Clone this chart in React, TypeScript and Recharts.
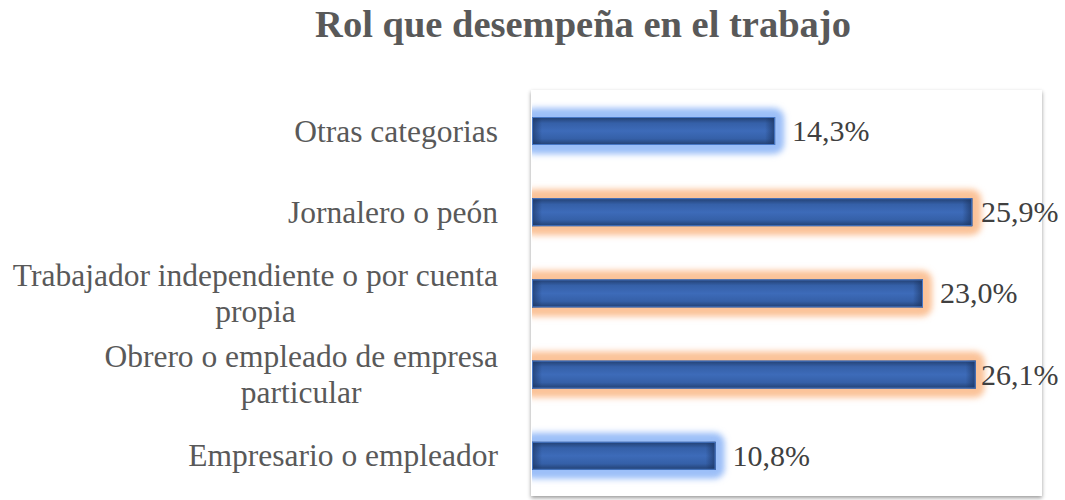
import React from 'react';
import { BarChart, Bar, XAxis, YAxis, LabelList } from 'recharts';

const categories = [
  'Otras categorias',
  'Jornalero o peón',
  'Trabajador independiente o por cuenta propia',
  'Obrero o empleado de empresa particular',
  'Empresario o empleador',
];
const values = [14.3, 25.9, 23.0, 26.1, 10.8];
const glowColors = ['#9cbff8', '#fbc399', '#fbc399', '#fbc399', '#9cbff8'];
const title = 'Rol que desempeña en el trabajo';

const data = categories.map((name, i) => ({ name, value: values[i] }));

const CAT_FONT = 31.5;
const FONT = '"Liberation Serif", "Times New Roman", serif';

let ctx: CanvasRenderingContext2D | null = null;
function measure(t: string): number {
  if (!ctx) {
    const c = document.createElement('canvas');
    ctx = c.getContext('2d');
  }
  if (!ctx) return t.length * CAT_FONT * 0.45;
  ctx.font = `${CAT_FONT}px "Liberation Serif"`;
  return ctx.measureText(t).width;
}

function wrap(text: string, maxW: number): string[] {
  const words = text.split(' ');
  const lines: string[] = [];
  let cur = '';
  for (const w of words) {
    const next = cur ? cur + ' ' + w : w;
    if (cur && measure(next) > maxW) {
      lines.push(cur);
      cur = w;
    } else cur = next;
  }
  if (cur) lines.push(cur);
  return lines;
}

function CatTick(props: any) {
  const { x, y, payload } = props;
  const lines = wrap(String(payload.value), 492);
  const right = Number(x);
  const cy = Number(y);
  if (lines.length === 1) {
    return (
      <text x={right} y={cy + 11} textAnchor="end" fill="#595959" fontFamily={FONT} fontSize={CAT_FONT}>
        {lines[0]}
      </text>
    );
  }
  const maxW = Math.max(...lines.map(measure));
  const cx = right - maxW / 2;
  const lh = 36.5;
  const first = cy + 11 - (lh * (lines.length - 1)) / 2;
  return (
    <text textAnchor="middle" fill="#595959" fontFamily={FONT} fontSize={CAT_FONT}>
      {lines.map((l, i) => (
        <tspan key={i} x={cx} y={first + i * lh}>
          {l}
        </tspan>
      ))}
    </text>
  );
}

function GlowBar(props: any) {
  const { x, y, width, height } = props;
  let index = props.index;
  if (index === undefined && props.payload) index = categories.indexOf(props.payload.name);
  const glow = glowColors[index] || glowColors[0];
  const id = `bar${index}`;
  const ex = x + width;
  return (
    <g>
      <defs>
        <filter id={`${id}-f`} x="-10%" y="-100%" width="120%" height="300%">
          <feGaussianBlur stdDeviation="3" />
        </filter>
        <clipPath id={`${id}-c`}>
          <rect x={x} y={y - 30} width={width + 40} height={height + 60} />
        </clipPath>
        <linearGradient id={`${id}-v`} x1="0" y1="0" x2="0" y2="1">
          <stop offset="0" stopColor="#223f70" />
          <stop offset="0.22" stopColor="#3560a8" />
          <stop offset="0.5" stopColor="#3d6bb9" />
          <stop offset="0.78" stopColor="#3560a8" />
          <stop offset="1" stopColor="#223f70" />
        </linearGradient>
        <linearGradient id={`${id}-h`} gradientUnits="userSpaceOnUse" x1={x} y1="0" x2={ex} y2="0">
          <stop offset="0" stopColor="#1c3561" stopOpacity="0.7" />
          <stop offset={Math.min(0.3, 10 / width)} stopColor="#1c3561" stopOpacity="0" />
          <stop offset={Math.max(0.7, 1 - 10 / width)} stopColor="#1c3561" stopOpacity="0" />
          <stop offset="1" stopColor="#1c3561" stopOpacity="0.75" />
        </linearGradient>
      </defs>
      <g clipPath={`url(#${id}-c)`}>
        <rect x={x - 9} y={y - 9} width={width + 18} height={height + 18} rx={10} fill={glow} filter={`url(#${id}-f)`} />
        <rect x={x - 4} y={y - 4} width={width + 8} height={height + 8} rx={5} fill={glow} opacity={0.6} filter={`url(#${id}-f)`} />
      </g>
      <rect x={x} y={y} width={width} height={height} fill={`url(#${id}-v)`} />
      <rect x={x} y={y} width={width} height={height} fill={`url(#${id}-h)`} />
      <rect x={x + 0.5} y={y + 0.5} width={width - 1} height={height - 1} fill="none" stroke="#4677c6" strokeWidth={1} />
    </g>
  );
}

function ValueLabel(props: any) {
  const x = Number(props.x);
  const y = Number(props.y);
  const w = Number(props.width);
  const h = Number(props.height);
  const v = Number(props.value);
  const lx = Math.min(x + w + 17, 981);
  return (
    <text x={lx} y={y + h / 2 + 10} fill="#404040" fontFamily={FONT} fontSize={30} textAnchor="start">
      {v.toFixed(1).replace('.', ',') + '%'}
    </text>
  );
}

export default function App() {
  return (
    <div style={{ position: 'absolute', left: 0, top: 0, width: 1065, height: 500, background: '#fff', overflow: 'hidden' }}>
      <div
        style={{
          position: 'absolute',
          left: 283,
          top: 5,
          width: 600,
          textAlign: 'center',
          fontFamily: FONT,
          fontWeight: 'bold',
          fontSize: 38.5,
          lineHeight: '38px',
          color: '#595959',
          whiteSpace: 'nowrap',
        }}
      >
        {title}
      </div>
      <div
        style={{
          position: 'absolute',
          left: 531,
          top: 90,
          width: 511,
          height: 406,
          background: '#fff',
          boxShadow: '0px 2px 4px rgba(0,0,0,0.4)',
        }}
      />
      <div style={{ position: 'absolute', left: 0, top: 0 }}>
        <BarChart
          width={1065}
          height={500}
          data={data}
          layout="vertical"
          margin={{ top: 90, right: 23, bottom: 4, left: 0 }}
          barSize={28}
        >
          <XAxis type="number" domain={[0, 30]} hide />
          <YAxis
            type="category"
            dataKey="name"
            width={532}
            axisLine={false}
            tickLine={false}
            tickSize={0}
            tickMargin={34}
            interval={0}
            tick={<CatTick />}
          />
          <Bar dataKey="value" isAnimationActive={false} shape={<GlowBar />}>
            <LabelList dataKey="value" content={<ValueLabel />} />
          </Bar>
        </BarChart>
      </div>
    </div>
  );
}
